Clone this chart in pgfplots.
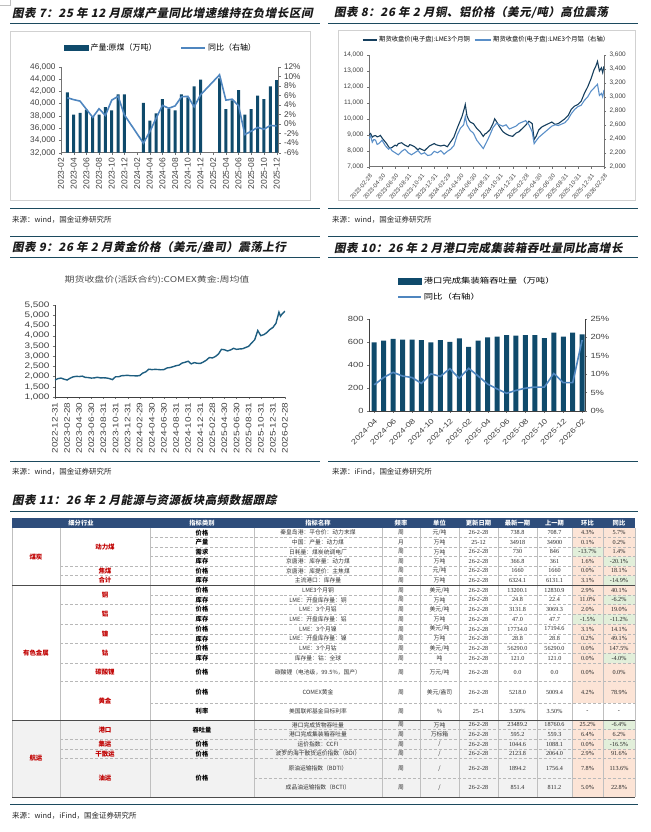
\documentclass[border=0pt]{standalone}
\usepackage{fontspec}
\usepackage{pgfplots}
\pgfplotsset{compat=1.18}
\setmainfont{Liberation Sans}
\newfontfamily\wsans[FakeStretch=1.25]{Liberation Sans}
\newfontfamily\cjk{Noto Sans CJK SC}
\newfontfamily\cjkw[FakeStretch=1.25]{Noto Sans CJK SC}
\newfontfamily\ttl[FakeSlant=0.2,LetterSpace=5]{Noto Sans CJK SC}
\newfontfamily\snum{Liberation Serif}
\newcommand\fs[1]{\fontsize{#1}{#1}\selectfont}
\definecolor{navy}{HTML}{0F4A6B}
\definecolor{lblue}{HTML}{4F86BF}
\definecolor{cu}{HTML}{163F5E}
\definecolor{al}{HTML}{5A8FC8}
\definecolor{gold}{HTML}{1E5E80}
\definecolor{rule}{HTML}{1C4A5E}
\definecolor{hdr}{HTML}{2E4D7B}
\definecolor{sal}{HTML}{FCE4D6}
\definecolor{grn}{HTML}{E2EFDA}
\definecolor{dred}{HTML}{C00000}
\definecolor{tk}{HTML}{404040}
\tikzset{
 tc/.style={font=\cjk\fs{5.8}, text=black!80, inner sep=0pt},
 tn/.style={font=\snum\fs{6.2}, text=black!85, inner sep=0pt},
 tb/.style={font=\cjk\bfseries\fs{6.3}, text=black, inner sep=0pt},
 tr/.style={font=\cjk\bfseries\fs{6.5}, text=dred, inner sep=0pt},
 gl/.style={draw=black!28, line width=0.4bp, densely dashed},
 vl/.style={draw=black!25, line width=0.4bp},
 sl/.style={draw=black!70, line width=0.8bp},
 rl/.style={draw=rule, line width=1bp},
 ti/.style={font=\ttl\bfseries\fs{11.5}, text=black!90, anchor=west, inner sep=0pt},
 src/.style={font=\cjk\fs{7.5}, text=black!85, anchor=west, inner sep=0pt}
}
\newcommand\R[8]{%
 \node[tc] at (318,{(#1+#2)/2}) {#3};
 \node[tc] at (401,{(#1+#2)/2}) {#4};
 \node[tc] at (439.5,{(#1+#2)/2}) {#5};
 \node[tn] at (478.5,{(#1+#2)/2}) {#6};
 \node[tn] at (517.5,{(#1+#2)/2}) {#7};
 \node[tn] at (554.5,{(#1+#2)/2}) {#8};}
\newcommand\C[6]{%
 \fill[#4] (572,#1) rectangle (603,#2);
 \fill[#6] (603,#1) rectangle (635,#2);
 \node[tn] at (587.5,{(#1+#2)/2}) {#3};
 \node[tn] at (619,{(#1+#2)/2}) {#5};}
\pgfplotsset{
 base/.style={scale only axis, anchor=south west,
  /pgf/number format/assume math mode=true, /pgf/number format/1000 sep={,},
  scaled y ticks=false, tick align=outside, major tick length=2bp,
  tick style={black!55}, axis line style={-, black!55},
  ticklabel style={text=tk}}
}
\begin{document}
\begin{tikzpicture}
% ================= Chart 7 =================
\begin{axis}[base, at={(61bp,679.3bp)}, width=217.5bp, height=86bp,
 xmin=0, xmax=34.3, ymin=32000, ymax=46000,
 axis x line*=bottom, axis y line*=left,
 xtick={0,2,...,34},
 xticklabels={2023-02,2023-04,2023-06,2023-08,2023-10,2023-12,2024-02,2024-04,2024-06,2024-08,2024-10,2024-12,2025-02,2025-04,2025-06,2025-08,2025-10,2025-12},
 x tick label style={rotate=90, anchor=east, font=\fs{8.5}},
 ytick={32000,34000,...,46000}, y tick label style={font=\fs{8.3}},
 ybar, bar width=3bp]
\addplot[fill=navy, draw=none] coordinates {
(1,41800)(2,38200)(3,38500)(4,39000)(5,37900)(6,38200)(7,39400)(8,38900)(9,41500)(10,41500)
(13,40100)(14,37200)(15,38400)(16,40700)(17,39100)(18,38900)(19,41500)(20,41000)(21,42800)(22,43900)
(25,44100)(26,39100)(27,40500)(28,42200)(29,38200)(30,39100)(31,41300)(32,40700)(33,42800)(34,43800)};
\end{axis}
\begin{axis}[base, at={(61bp,679.3bp)}, width=217.5bp, height=86bp,
 xmin=0, xmax=34.3, ymin=-6, ymax=12,
 axis x line=none, axis y line*=right,
 ytick={-6,-4,...,12}, yticklabel={\pgfmathprintnumber{\tick}\%},
 y tick label style={font=\fs{8.3}},
 legend style={at={(0.46,1.217)}, anchor=center, draw=none, fill=none, legend columns=2,
  font=\cjk\fs{8}, /tikz/every even column/.append style={column sep=22bp}},
 legend cell align=left]
\addlegendimage{legend image code/.code={\fill[navy] (0bp,-2.5bp) rectangle (24bp,2.5bp);}}
\addlegendentry{产量:原煤（万吨）}
\addplot[lblue, line width=1.6bp, legend image code/.code={\draw[lblue,line width=1.6bp] (0bp,0bp)--(24bp,0bp);}] coordinates {
(1,5.5)(2,5.1)(3,4.8)(4,3.1)(5,1.4)(6,3.2)(7,1.8)(8,5.0)(9,5.8)(10,1.9)
(13,-4.0)(14,-1.6)(15,1.2)(16,3.9)(17,3.3)(18,3.8)(19,5.7)(20,5.8)(21,3.6)(22,6.1)
(25,10.3)(26,5.0)(27,5.2)(28,3.8)(29,-2.2)(30,-1.5)(31,-0.7)(32,-1.1)(33,-0.3)(34,-0.4)};
\addlegendentry{同比（右轴）}
\node[font=\fs{8.3}, text=black!55, anchor=west, inner sep=0pt] at (axis cs:34.3,-0.4) [xshift=5bp] {-0.4\%};
\end{axis}
% ================= Chart 8 =================
\begin{axis}[base, at={(369bp,665.3bp)}, width=235bp, height=111.7bp,
 xmin=0, xmax=36, ymin=7000, ymax=14000,
 axis x line*=bottom, axis y line*=left,
 xtick={0,2,...,36},
 xticklabels={2023-02-28,2023-04-30,2023-06-30,2023-08-31,2023-10-31,2023-12-31,2024-02-29,2024-04-30,2024-06-30,2024-08-31,2024-10-31,2024-12-31,2025-02-28,2025-04-30,2025-06-30,2025-08-31,2025-10-31,2025-12-31,2026-02-28},
 x tick label style={rotate=50, anchor=north east, font=\fs{6}},
 ytick={7000,8000,...,14000}, y tick label style={font=\fs{6.5}}]
\addplot[cu, line width=1.1bp] coordinates {
(0,9000)(0.25,9080)(0.5,8850)(0.75,8930)(1,8950)(1.25,8870)(1.5,8900)(1.75,8960)(2,8800)(2.5,8550)(2.75,8420)(3,8250)(3.25,8160)(3.5,8200)(4,8350)(4.25,8300)(4.5,8450)(5,8500)(5.25,8420)(5.5,8350)(6,8250)(6.25,8380)(6.5,8350)(7,8250)(7.5,8050)(7.75,8150)(8,8100)(8.5,8000)(9,8200)(9.25,8300)(9.5,8350)(10,8450)(10.25,8380)(10.5,8350)(11,8300)(11.5,8350)(12,8250)(12.5,8550)(13,8850)(13.5,9400)(14,9900)(14.25,10150)(14.5,10500)(14.75,10900)(15,10200)(15.25,9950)(15.5,9800)(16,9700)(16.5,9400)(17,9200)(17.5,8900)(17.75,9050)(18,9100)(18.5,9300)(19,9700)(19.25,10000)(19.5,9850)(20,9500)(20.5,9200)(21,9050)(21.5,8950)(22,8900)(22.5,9100)(23,9200)(23.5,9400)(24,9600)(24.5,9850)(25,9700)(25.3,8700)(25.6,8900)(26,9300)(26.5,9500)(27,9600)(27.5,9700)(28,9800)(28.5,9650)(29,9700)(29.5,9850)(30,10000)(30.5,10200)(31,10600)(31.5,10800)(32,10900)(32.5,11100)(33,11600)(33.5,12000)(34,12500)(34.5,13100)(34.75,13300)(35,13600)(35.3,13000)(35.6,13200)(35.8,12900)(36,13300)};
\end{axis}
\begin{axis}[base, at={(369bp,665.3bp)}, width=235bp, height=111.7bp,
 xmin=0, xmax=36, ymin=2000, ymax=3600,
 axis x line=none, axis y line*=right,
 ytick={2000,2200,...,3600}, y tick label style={font=\fs{6.5}},
 legend style={at={(0.5,1.134)}, anchor=center, draw=none, fill=none, legend columns=2,
  font=\cjk\fs{6.3}, /tikz/every even column/.append style={column sep=2bp}},
 legend cell align=left]
\addlegendimage{legend image code/.code={\draw[cu,line width=1.3bp] (0bp,0bp)--(14bp,0bp);}}
\addlegendentry{期货收盘价(电子盘):LME3个月铜}
\addplot[al, line width=1.1bp, legend image code/.code={\draw[al,line width=1.3bp] (0bp,0bp)--(16bp,0bp);}] coordinates {
(0,2400)(0.25,2440)(0.5,2350)(0.75,2390)(1,2380)(1.25,2320)(1.5,2330)(2,2380)(2.5,2300)(3,2250)(3.25,2270)(3.5,2230)(4,2200)(4.5,2170)(5,2220)(5.5,2250)(6,2200)(6.5,2170)(7,2200)(7.5,2230)(8,2180)(8.5,2200)(9,2160)(9.5,2170)(10,2220)(10.5,2200)(11,2230)(11.5,2180)(12,2220)(12.5,2250)(13,2300)(13.5,2450)(14,2550)(14.5,2600)(14.75,2720)(15,2600)(15.5,2520)(16,2480)(16.5,2380)(17,2320)(17.5,2260)(18,2350)(18.5,2450)(19,2560)(19.5,2620)(20,2600)(20.5,2580)(21,2600)(21.5,2540)(22,2560)(22.5,2580)(23,2620)(23.5,2640)(24,2660)(24.5,2600)(25,2500)(25.3,2330)(25.6,2370)(26,2420)(26.5,2460)(27,2500)(27.5,2540)(28,2580)(28.5,2600)(29,2590)(29.5,2610)(30,2630)(30.5,2680)(31,2760)(31.5,2820)(32,2860)(32.5,2880)(33,2950)(33.5,3000)(34,3080)(34.5,3130)(35,3180)(35.3,3020)(35.6,3050)(35.8,3000)(36,3100)};
\addlegendentry{期货收盘价(电子盘):LME3个月铝（右轴）}
\end{axis}
% ================= Chart 9 =================
\begin{axis}[base, at={(55bp,435bp)}, width=230bp, height=92bp,
 xmin=0, xmax=38, ymin=1000, ymax=5500,
 axis x line*=bottom, axis y line*=left, axis line style={-, black!75},
 xtick={0,2,...,38},
 xticklabels={2022-12-31,2023-02-28,2023-04-30,2023-06-30,2023-08-31,2023-10-31,2023-12-31,2024-02-29,2024-04-30,2024-06-30,2024-08-31,2024-10-31,2024-12-31,2025-02-28,2025-04-30,2025-06-30,2025-08-31,2025-10-31,2025-12-31,2026-02-28},
 x tick label style={rotate=90, anchor=east, font=\wsans\fs{8}},
 ytick={1000,1500,...,5500}, y tick label style={font=\wsans\fs{8}}]
\addplot[gold, line width=1.4bp] coordinates {
(0,1830)(0.5,1900)(1,1925)(1.5,1870)(2,1830)(2.5,1920)(3,1985)(3.5,2010)(4,2000)(4.5,2020)(5,1960)(5.5,1950)(6,1925)(6.5,1935)(7,1965)(7.5,1935)(8,1940)(8.5,1930)(9,1900)(9.5,1850)(10,1990)(10.5,1990)(11,2040)(11.5,2050)(12,2060)(12.5,2040)(13,2040)(13.5,2030)(14,2050)(14.5,2170)(15,2230)(15.5,2360)(16,2340)(16.5,2350)(17,2345)(17.5,2330)(18,2340)(18.5,2420)(19,2440)(19.5,2480)(20,2530)(20.5,2560)(21,2660)(21.5,2700)(22,2750)(22.5,2620)(23,2680)(23.5,2650)(24,2640)(24.5,2710)(25,2800)(25.5,2930)(26,2910)(26.5,2980)(27,3100)(27.5,3330)(28,3310)(28.5,3250)(29,3300)(29.5,3380)(30,3330)(30.5,3350)(31,3360)(31.5,3420)(32,3480)(32.5,3650)(33,3800)(33.5,4250)(34,4000)(34.5,4050)(35,4150)(35.5,4300)(36,4400)(36.5,4600)(37,5150)(37.25,4950)(37.5,5050)(38,5200)};
\end{axis}
% ================= Chart 10 =================
\begin{axis}[base, at={(369bp,421bp)}, width=216bp, height=92bp,
 xmin=-0.55, xmax=22.3, ymin=0, ymax=800,
 axis x line*=bottom, axis y line*=left, axis line style={-, black!75},
 xtick={0,2,...,22},
 xticklabels={2024-04,2024-06,2024-08,2024-10,2024-12,2025-02,2025-04,2025-06,2025-08,2025-10,2025-12,2026-02},
 x tick label style={rotate=45, anchor=north east, font=\wsans\fs{7.3}},
 ytick={0,200,...,800}, y tick label style={font=\wsans\fs{7.5}},
 ybar, bar width=5bp]
\addplot[fill=navy, draw=none] coordinates {
(0,596)(1,611)(2,628)(3,620)(4,620)(5,617)(6,596)(7,617)(8,602)(9,631)(10,558)(11,611)
(12,640)(13,646)(14,660)(15,655)(16,660)(17,660)(18,634)(19,681)(20,646)(21,681)(22,666)};
\end{axis}
\begin{axis}[base, at={(369bp,421bp)}, width=216bp, height=92bp,
 xmin=-0.55, xmax=22.3, ymin=0, ymax=25,
 axis x line=none, axis y line*=right, axis line style={-, black!75},
 ytick={0,5,...,25}, yticklabel={\pgfmathprintnumber{\tick}\%}, y tick label style={font=\wsans\fs{7.5}},
 legend style={at={(0.13,1.478)}, anchor=north west, draw=none, fill=none, inner sep=0pt,
  font=\cjkw\fs{7.5}, row sep=4bp},
 legend cell align=left]
\addlegendimage{legend image code/.code={\fill[navy] (0bp,-3bp) rectangle (23bp,3bp);}}
\addlegendentry{港口完成集装箱吞吐量（万吨）}
\addplot[lblue, line width=1.6bp, legend image code/.code={\draw[lblue,line width=1.6bp] (0bp,0bp)--(23bp,0bp);}] coordinates {
(0,7.1)(1,9.1)(2,10.5)(3,9.5)(4,9.1)(5,7.5)(6,10.1)(7,9.4)(8,11.5)(9,8.9)(10,11.6)(11,9.5)
(12,7.3)(13,6.0)(14,4.8)(15,5.6)(16,6.2)(17,6.5)(18,6.5)(19,10.2)(20,7.7)(21,7.7)(22,19.3)};
\addlegendentry{同比（右轴）}
\node[font=\wsans\fs{7.5}, text=black!50, anchor=west, inner sep=0pt] at (axis cs:22,19.3) [xshift=8bp,yshift=-1bp] {19.3\%};
\end{axis}
% ================= Decorations & table =================
\begin{scope}[x=1bp,y=-1bp,shift={(0bp,832bp)}]
\draw[black!25, line width=0.6bp] (0,5)--(10,5)--(10,0);
\draw[black!18, line width=0.6bp] (10,31) rectangle (310,200);
\draw[black!18, line width=0.6bp] (338,30) rectangle (635,200);
% titles
\node[ti] at (12,13) {图表 7：25 年 12 月原煤产量同比增速维持在负增长区间};
\node[ti] at (334,13) {图表 8：26 年 2 月铜、铝价格（美元/吨）高位震荡};
\node[ti] at (12,248) {图表 9：26 年 2 月黄金价格（美元/盎司）震荡上行};
\node[ti] at (334,248) {图表 10：26 年 2 月港口完成集装箱吞吐量同比高增长};
\node[ti] at (12,500) {图表 11：26 年 2 月能源与资源板块高频数据跟踪};
% rules
\draw[rl] (10,24)--(320,24); \draw[rl] (328,24)--(638,24);
\draw[rl] (10,209)--(320,209); \draw[rl] (328,209)--(638,209);
\draw[rl] (10,237)--(320,237); \draw[rl] (328,237)--(638,237);
\draw[rl] (10,258)--(320,258); \draw[rl] (328,258)--(638,258);
\draw[rl] (10,462)--(320,462); \draw[rl] (328,462)--(638,462);
\draw[rl] (10,512)--(638,512);
\draw[rl] (10,805)--(638,805);
% sources
\node[src] at (12,220) {来源：wind，国金证券研究所};
\node[src] at (332,220) {来源：wind，国金证券研究所};
\node[src] at (12,472) {来源：wind，国金证券研究所};
\node[src] at (332,472) {来源：iFind，国金证券研究所};
\node[src] at (12,816) {来源：wind，iFind，国金证券研究所};
% chart 9 title
\node[font=\cjkw\fs{8}, text=black!70, inner sep=0pt] at (157,280) {期货收盘价(活跃合约):COMEX黄金:周均值};
% ---- table ----
\fill[black!5] (12,720) rectangle (635,797);
\fill[hdr] (12,518) rectangle (635,528);
\foreach \x/\t in {81/细分行业,202/指标类别,318/指标名称,401/频率,439.5/单位,478.5/更新日期,517.5/最新一期,554.5/上一期,587.5/环比,619/同比}
  \node[font=\cjk\bfseries\fs{6.3}, text=white, inner sep=0pt] at (\x,523) {\t};
% coal
\R{528}{537.5}{秦皇岛港：平仓价：动力末煤}{周}{元/吨}{26-2-28}{738.8}{708.7}
\C{528}{537.5}{4.3\%}{sal}{5.7\%}{sal}
\R{537.5}{547.1}{中国：产量：动力煤}{月}{万吨}{25-12}{34918}{34900}
\C{537.5}{547.1}{0.1\%}{sal}{0.2\%}{sal}
\R{547.1}{556.6}{日耗量：煤炭统调电厂}{周}{万吨}{26-2-28}{730}{846}
\C{547.1}{556.6}{-13.7\%}{grn}{1.4\%}{sal}
\R{556.6}{566.2}{京唐港：库存量：动力煤}{周}{万吨}{26-2-28}{366.8}{361}
\C{556.6}{566.2}{1.6\%}{sal}{-20.1\%}{grn}
\R{566.2}{575.7}{京唐港：库提价：主焦煤}{周}{元/吨}{26-2-28}{1660}{1660}
\C{566.2}{575.7}{0.0\%}{sal}{18.1\%}{sal}
\R{575.7}{585.3}{主流港口：库存量}{周}{万吨}{26-2-28}{6324.1}{6131.1}
\C{575.7}{585.3}{3.1\%}{sal}{-14.9\%}{grn}
% nonferrous
\R{585.3}{595}{LME3个月铜}{周}{美元/吨}{26-2-28}{13200.1}{12830.9}
\C{585.3}{595}{2.9\%}{sal}{40.1\%}{sal}
\R{595}{604.7}{LME：开盘库存量：铜}{周}{万吨}{26-2-28}{24.8}{22.4}
\C{595}{604.7}{11.0\%}{sal}{-6.2\%}{grn}
\R{604.7}{614.4}{LME：3个月铝}{周}{美元/吨}{26-2-28}{3131.8}{3069.3}
\C{604.7}{614.4}{2.0\%}{sal}{19.0\%}{sal}
\R{614.4}{624.1}{LME：开盘库存量：铝}{周}{万吨}{26-2-28}{47.0}{47.7}
\C{614.4}{624.1}{-1.5\%}{grn}{-11.2\%}{grn}
\R{624.1}{633.9}{LME：3个月镍}{周}{美元/吨}{26-2-28}{17734.0}{17194.6}
\C{624.1}{633.9}{3.1\%}{sal}{14.1\%}{sal}
\R{633.9}{643.6}{LME：开盘库存量：镍}{周}{万吨}{26-2-28}{28.8}{28.8}
\C{633.9}{643.6}{0.2\%}{sal}{49.1\%}{sal}
\R{643.6}{653.3}{LME：3个月钴}{周}{美元/吨}{26-2-28}{56290.0}{56290.0}
\C{643.6}{653.3}{0.0\%}{sal}{147.5\%}{sal}
\R{653.3}{663}{库存量：钴：全球}{周}{吨}{26-2-28}{121.0}{121.0}
\C{653.3}{663}{0.0\%}{sal}{-4.0\%}{grn}
\R{663}{681.5}{碳酸锂（电池级，99.5\%，国产）}{周}{万元/吨}{26-2-28}{0.0}{0.0}
\C{663}{681.5}{0.0\%}{sal}{0.0\%}{sal}
\R{681.5}{703}{COMEX黄金}{周}{美元/盎司}{26-2-28}{5218.0}{5009.4}
\C{681.5}{703}{4.2\%}{sal}{78.9\%}{sal}
\R{703}{720}{美国联邦基金目标利率}{周}{\%}{25-1}{3.50\%}{3.50\%}
\C{703}{720}{-}{white}{-}{white}
% shipping
\R{720}{729.7}{港口完成货物吞吐量}{周}{万吨}{26-2-28}{23489.2}{18760.6}
\C{720}{729.7}{25.2\%}{sal}{-6.4\%}{grn}
\R{729.7}{739.3}{港口完成集装箱吞吐量}{周}{万标箱}{26-2-28}{595.2}{559.3}
\C{729.7}{739.3}{6.4\%}{sal}{6.2\%}{sal}
\R{739.3}{749}{运价指数：CCFI}{周}{/}{26-2-28}{1044.6}{1088.1}
\C{739.3}{749}{0.0\%}{sal}{-16.5\%}{grn}
\R{749}{758.5}{波罗的海干散货运价指数（BDI）}{周}{/}{26-2-28}{2123.8}{2064.0}
\C{749}{758.5}{2.9\%}{sal}{91.6\%}{sal}
\R{758.5}{778}{原油运输指数（BDTI）}{周}{/}{26-2-28}{1894.2}{1756.4}
\C{758.5}{778}{7.8\%}{sal}{113.6\%}{sal}
\R{778}{797}{成品油运输指数（BCTI）}{周}{/}{26-2-28}{851.4}{811.2}
\C{778}{797}{5.0\%}{sal}{22.8\%}{sal}
% category column
\foreach \y/\t in {532.8/价格,542.3/产量,551.9/需求,561.4/库存,571/价格,580.5/库存,590.2/价格,599.9/库存,609.6/价格,619.3/库存,629/价格,638.8/库存,648.5/价格,658.2/库存,672.3/价格,692.3/价格,711.5/利率,729.7/吞吐量,744.2/价格,753.8/价格,778/价格}
  \node[tb] at (202,\y) {\t};
% sub-industry
\foreach \y/\t in {547.1/动力煤,571/焦煤,580.5/合计,595/铜,614.4/铝,633.9/镍,653.3/钴,672.3/碳酸锂,700.8/黄金,729.7/港口,744.2/集运,753.8/干散运,778/油运}
  \node[tr] at (105,\y) {\t};
\foreach \y/\t in {556.6/煤炭,652.7/有色金属,758.5/航运}
  \node[tr] at (36,\y) {\t};
% grid
\foreach \y in {537.5,547.1,556.6,566.2,575.7,595,604.7,614.4,624.1,633.9,643.6,653.3,663,681.5,703,739.3,749,758.5}
  \draw[gl] (150,\y)--(635,\y);
\foreach \y in {729.7,778} \draw[gl] (254,\y)--(635,\y);
\foreach \y in {566.2,575.7,604.7,624.1,643.6,663,681.5,739.3,749,758.5} \draw[gl] (60,\y)--(150,\y);
\foreach \x in {12,60,150,254,382,420,459,498,537,572,603,635} \draw[vl] (\x,528)--(\x,797);
\foreach \y in {585.3,720,797} \draw[sl] (12,\y)--(635,\y);
\end{scope}
\pgfresetboundingbox
\path[use as bounding box] (0bp,0bp) rectangle (651bp,832bp);
\end{tikzpicture}
\end{document}
